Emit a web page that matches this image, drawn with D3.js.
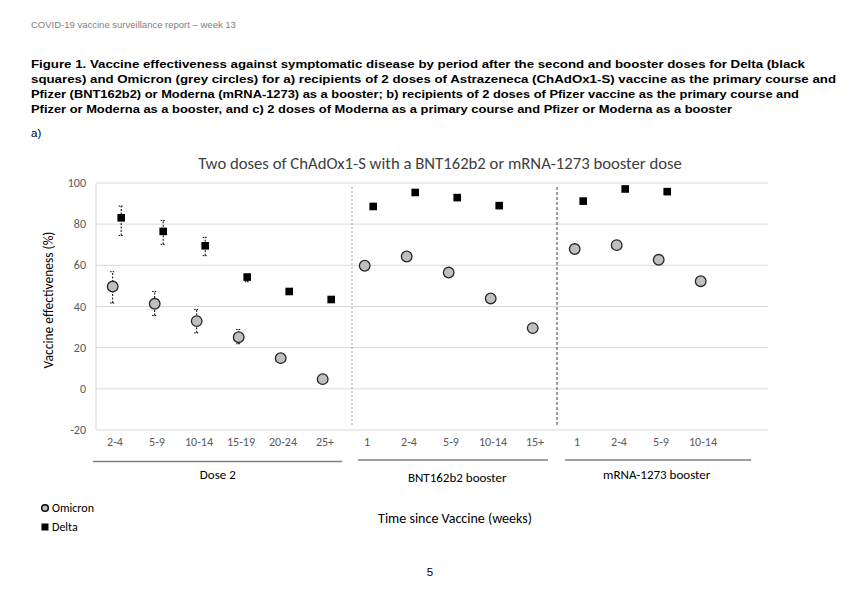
<!DOCTYPE html>
<html lang="en">
  <head>
    <meta charset="UTF-8" />
    <title>Vaccine effectiveness, ChAdOx1-S with booster</title>
    <script src="https://d3js.org/d3.v7.min.js"></script>
    <style>
      body {
        margin: 0;
        padding: 0;
        background-color: #ffffff;
      }
      svg text.chart {
        font-family: Carlito, Calibri, Lato, "Open Sans", sans-serif;
      }
      svg text.page {
        font-family: "Liberation Sans", Arial, sans-serif;
      }
    </style>
  </head>
  <body>
    <div id="visualization"></div>

    <script>
      // -----------------------------
      // Data
      // -----------------------------
      const categories = ["2-4", "5-9", "10-14", "15-19", "20-24", "25+", "1", "2-4", "5-9", "10-14", "15+", "1", "2-4", "5-9", "10-14"];

      const omicronVE = [49.7, 41.3, 32.9, 25.1, 14.9, 4.7, 59.8, 64.3, 56.5, 43.9, 29.5, 67.9, 69.8, 62.7, 52.3];
      const omicronLow = [41.7, 35.6, 27.2, 21.9, 13.5, 3.5, 58.8, 63.4, 55.5, 42.8, 27.3, 66.8, 68.8, 61.5, 50.3];
      const omicronHigh = [56.9, 47.3, 38.6, 28.8, 16.3, 5.9, 60.8, 65.1, 57.5, 45.0, 31.6, 69.0, 70.8, 63.9, 54.4];

      const deltaVE = [83.1, 76.5, 69.5, 54.3, 47.3, 43.4, 88.6, 95.4, 92.9, 89.0, null, 91.2, 97.1, 95.8, null];
      const deltaLow = [74.5, 70.2, 64.7, 52.0, 46.3, 42.3, 88.2, 95.1, 92.5, 88.5, null, 90.7, 96.8, 95.4, null];
      const deltaHigh = [88.8, 81.8, 73.6, 55.6, 48.3, 44.4, 89.0, 95.7, 93.3, 89.5, null, 91.7, 97.4, 96.2, null];

      // group brackets under the axis, in category units (they are hand drawn in the original)
      const groupNames = ["Dose 2", "BNT162b2 booster", "mRNA-1273 booster"];
      const groupFrom = [-0.07, 6.24, 11.17];
      const groupTo = [5.86, 10.76, 15.6];
      const groupLabelAt = [2.9, 8.6, 13.35];

      const yTicks = [-20, 0, 20, 40, 60, 80, 100];

      const captionLines = [
        "Figure 1. Vaccine effectiveness against symptomatic disease by period after the second and booster doses for Delta (black",
        "squares) and Omicron (grey circles) for a) recipients of 2 doses of Astrazeneca (ChAdOx1-S) vaccine as the primary course and",
        "Pfizer (BNT162b2) or Moderna (mRNA-1273) as a booster; b) recipients of 2 doses of Pfizer vaccine as the primary course and",
        "Pfizer or Moderna as a booster, and c) 2 doses of Moderna as a primary course and Pfizer or Moderna as a booster",
      ];
      const captionWidths = [774, 805, 768, 701];

      // -----------------------------
      // SVG and scales
      // -----------------------------
      const svg = d3
        .select("#visualization")
        .append("svg")
        .attr("width", 849)
        .attr("height", 598);

      const x = d3
        .scaleBand()
        .domain(d3.range(16)) // one empty slot at the right, as in the original
        .range([96, 768]);

      // same axis as a continuous scale, for the brackets under the labels
      const xUnits = d3.scaleLinear().domain([0, 16]).range([96, 768]);

      const y = d3.scaleLinear().domain([-20, 100]).range([430, 183]);

      const cx = (i, off) => x(i) + x.bandwidth() / 2 + off;

      // -----------------------------
      // Page text
      // -----------------------------
      svg
        .append("text")
        .attr("class", "page")
        .attr("x", 31)
        .attr("y", 28)
        .attr("font-size", 9.5)
        .attr("fill", "#7f7f7f")
        .text("COVID-19 vaccine surveillance report \u2013 week 13");

      svg
        .selectAll("text.caption")
        .data(captionLines)
        .enter()
        .append("text")
        .attr("class", "page caption")
        .attr("x", 31)
        .attr("y", (d, i) => 68 + i * 15)
        .attr("font-size", 11.5)
        .attr("font-weight", "bold")
        .attr("fill", "#000")
        .attr("textLength", (d, i) => captionWidths[i])
        .attr("lengthAdjust", "spacingAndGlyphs")
        .text((d) => d);

      svg
        .append("text")
        .attr("class", "page")
        .attr("x", 31)
        .attr("y", 137)
        .attr("font-size", 11.5)
        .text("a)");

      svg
        .append("text")
        .attr("class", "page")
        .attr("x", 430)
        .attr("y", 576)
        .attr("text-anchor", "middle")
        .attr("font-size", 11.5)
        .text("5");

      // -----------------------------
      // Chart frame
      // -----------------------------
      svg
        .append("text")
        .attr("class", "chart")
        .attr("x", 440)
        .attr("y", 169)
        .attr("text-anchor", "middle")
        .attr("font-size", 16.7)
        .attr("fill", "#404040")
        .text("Two doses of ChAdOx1-S with a BNT162b2 or mRNA-1273 booster dose");

      // gridlines
      svg
        .append("g")
        .selectAll("line")
        .data(yTicks)
        .enter()
        .append("line")
        .attr("x1", 96)
        .attr("x2", 768)
        .attr("y1", (d) => y(d))
        .attr("y2", (d) => y(d))
        .attr("stroke", "#d9d9d9")
        .attr("stroke-width", 1);

      svg
        .append("line")
        .attr("x1", 96)
        .attr("x2", 96)
        .attr("y1", y(100))
        .attr("y2", y(-20))
        .attr("stroke", "#d9d9d9");

      // y tick labels
      svg
        .append("g")
        .selectAll("text")
        .data(yTicks)
        .enter()
        .append("text")
        .attr("class", "chart")
        .attr("x", 86)
        .attr("y", (d) => y(d) + 4)
        .attr("text-anchor", "end")
        .attr("font-size", 12)
        .attr("fill", "#595959")
        .text((d) => d);

      svg
        .append("text")
        .attr("class", "chart")
        .attr("transform", "translate(53,300) rotate(-90)")
        .attr("text-anchor", "middle")
        .attr("font-size", 13.5)
        .attr("fill", "#000")
        .text("Vaccine effectiveness (%)");

      // category labels
      svg
        .append("g")
        .selectAll("text")
        .data(categories)
        .enter()
        .append("text")
        .attr("class", "chart")
        .attr("x", (d, i) => cx(i, -2))
        .attr("y", 446)
        .attr("text-anchor", "middle")
        .attr("font-size", 12)
        .attr("fill", "#595959")
        .text((d) => d);

      // group brackets and names
      const groups = svg.append("g");
      groupNames.forEach((name, g) => {
        groups
          .append("line")
          .attr("x1", xUnits(groupFrom[g]))
          .attr("x2", xUnits(groupTo[g]))
          .attr("y1", g === 0 ? 461.5 : 460)
          .attr("y2", g === 0 ? 461.5 : 460)
          .attr("stroke", "#7f7f7f")
          .attr("stroke-width", 1.3);
        groups
          .append("text")
          .attr("class", "chart")
          .attr("x", xUnits(groupLabelAt[g]))
          .attr("y", g === 1 ? 482 : 479)
          .attr("text-anchor", "middle")
          .attr("font-size", 13)
          .attr("fill", "#000")
          .text(name);
      });

      // dividers between dose groups
      svg
        .append("line")
        .attr("x1", x(6) + 4)
        .attr("x2", x(6) + 4)
        .attr("y1", 187)
        .attr("y2", 427)
        .attr("stroke", "#a6a6a6")
        .attr("stroke-width", 1)
        .attr("stroke-dasharray", "2,2");

      svg
        .append("line")
        .attr("x1", x(11) - 1)
        .attr("x2", x(11) - 1)
        .attr("y1", 187)
        .attr("y2", 427)
        .attr("stroke", "#404040")
        .attr("stroke-width", 1)
        .attr("stroke-dasharray", "3,2");

      svg
        .append("text")
        .attr("class", "chart")
        .attr("x", 455)
        .attr("y", 523)
        .attr("text-anchor", "middle")
        .attr("font-size", 14)
        .attr("fill", "#000")
        .text("Time since Vaccine (weeks)");

      // -----------------------------
      // Error bars and markers
      // -----------------------------
      function drawErrorBars(vals, lows, highs, off) {
        const g = svg.append("g");
        vals.forEach((v, i) => {
          if (v === null) return;
          const px = cx(i, off);
          g.append("line")
            .attr("x1", px)
            .attr("x2", px)
            .attr("y1", y(lows[i]))
            .attr("y2", y(highs[i]))
            .attr("stroke", "#000")
            .attr("stroke-width", 1)
            .attr("stroke-dasharray", "2,1.5");
          [lows[i], highs[i]].forEach((e) => {
            g.append("line")
              .attr("x1", px - 2.5)
              .attr("x2", px + 2.5)
              .attr("y1", y(e))
              .attr("y2", y(e))
              .attr("stroke", "#000")
              .attr("stroke-width", 1)
              .attr("stroke-dasharray", "1.5,1");
          });
        });
      }

      drawErrorBars(omicronVE, omicronLow, omicronHigh, -4.3);
      drawErrorBars(deltaVE, deltaLow, deltaHigh, 4.2);

      svg
        .append("g")
        .selectAll("circle")
        .data(omicronVE)
        .enter()
        .append("circle")
        .attr("cx", (d, i) => cx(i, -4.3))
        .attr("cy", (d) => y(d))
        .attr("r", 5.3)
        .attr("fill", "#bfbfbf")
        .attr("stroke", "#262626")
        .attr("stroke-width", 1.3);

      svg
        .append("g")
        .selectAll("rect")
        .data(deltaVE.map((v, i) => ({ v, i })).filter((d) => d.v !== null))
        .enter()
        .append("rect")
        .attr("x", (d) => cx(d.i, 4.2) - 3.8)
        .attr("y", (d) => y(d.v) - 3.8)
        .attr("width", 7.6)
        .attr("height", 7.6)
        .attr("fill", "#000");

      // -----------------------------
      // Legend
      // -----------------------------
      const legend = svg.append("g");
      legend
        .append("circle")
        .attr("cx", 45)
        .attr("cy", 508)
        .attr("r", 3.3)
        .attr("fill", "#bfbfbf")
        .attr("stroke", "#000")
        .attr("stroke-width", 1.5);
      legend
        .append("rect")
        .attr("x", 41.5)
        .attr("y", 523.5)
        .attr("width", 7)
        .attr("height", 7)
        .attr("fill", "#000");
      legend
        .append("text")
        .attr("class", "chart")
        .attr("x", 52)
        .attr("y", 512)
        .attr("font-size", 12)
        .text("Omicron");
      legend
        .append("text")
        .attr("class", "chart")
        .attr("x", 52)
        .attr("y", 531)
        .attr("font-size", 12)
        .text("Delta");
    </script>
  </body>
</html>
